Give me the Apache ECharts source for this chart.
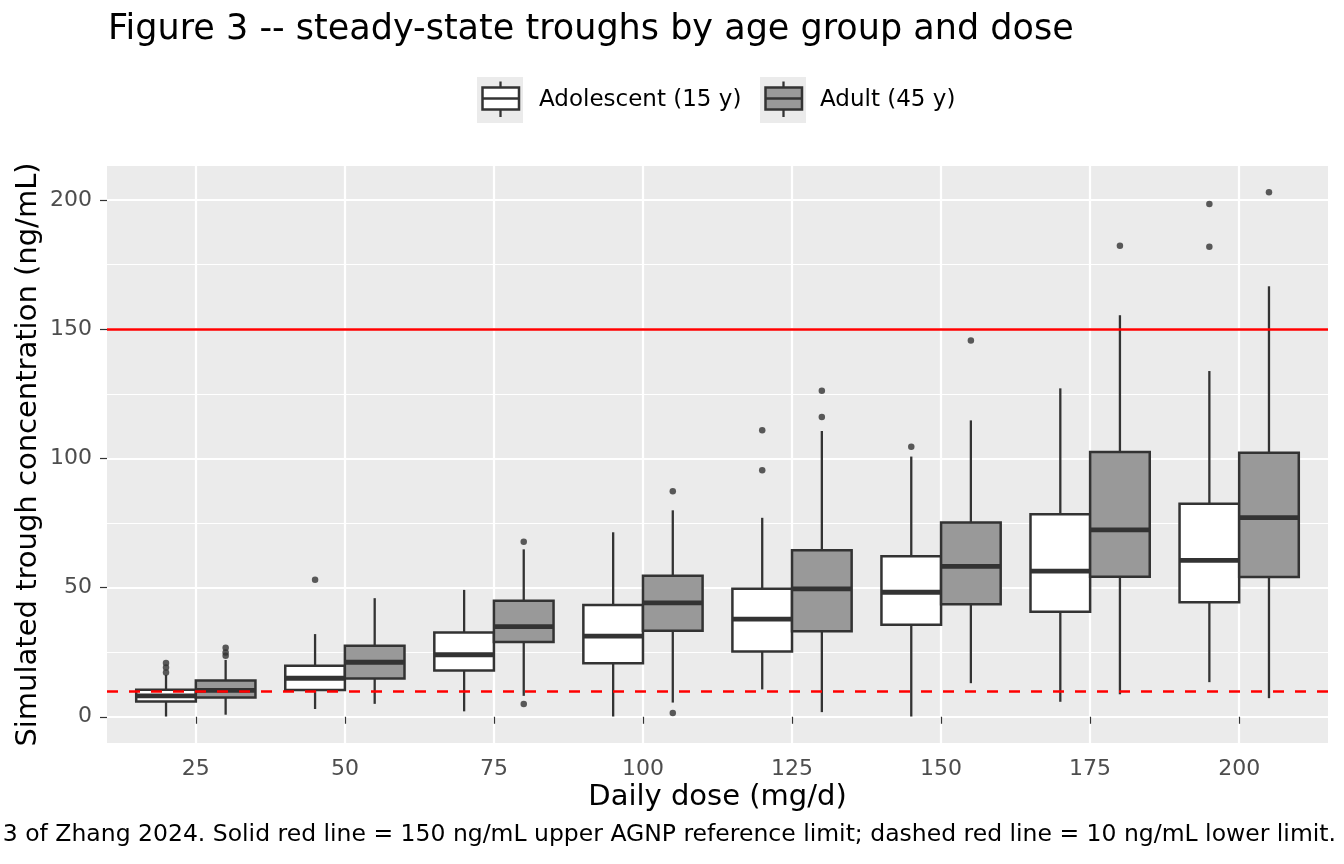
<!DOCTYPE html>
<html>
<head>
<meta charset="utf-8">
<title>Figure 3 -- steady-state troughs</title>
<script src="https://cdn.jsdelivr.net/npm/echarts@6/dist/echarts.min.js"></script>
<style>
  html, body { margin: 0; padding: 0; background: #fff; }
  #chart { width: 1344px; height: 864px; }
</style>
</head>
<body>
<div id="chart"></div>
<script>
// doses on the x axis
const doses = [25, 50, 75, 100, 125, 150, 175, 200]
const yTicks = [0, 50, 100, 150, 200]

// box stats per dose: [lower whisker, q1, median, q3, upper whisker]
const adolescentStats = [
  [0.1, 5.9, 8.1, 10.5, 16.2],
  [3.0, 10.4, 14.9, 19.7, 32.0],
  [2.1, 17.9, 24.0, 32.6, 49.1],
  [0.1, 20.7, 31.2, 43.3, 71.4],
  [10.6, 25.3, 37.8, 49.5, 77.0],
  [0.1, 35.6, 48.2, 62.1, 100.7],
  [5.8, 40.6, 56.4, 78.4, 127.1],
  [13.4, 44.3, 60.5, 82.4, 133.8]
]
const adultStats = [
  [0.8, 7.5, 10.2, 14.0, 22.0],
  [5.0, 14.8, 21.1, 27.5, 45.9],
  [8.1, 28.9, 34.9, 44.9, 64.8],
  [5.5, 33.3, 44.1, 54.6, 79.9],
  [1.8, 33.1, 49.5, 64.4, 110.6],
  [13.0, 43.5, 58.2, 75.2, 114.7],
  [8.7, 54.2, 72.3, 102.5, 155.4],
  [7.2, 54.1, 77.1, 102.2, 166.6]
]

// outliers: [dose, value]
const adolescentOutliers = [
  [25, 17.1], [25, 19.1], [25, 20.8], [50, 53.0], [125, 110.9], [125, 95.4],
  [150, 104.5], [200, 198.4], [200, 181.9]
]
const adultOutliers = [
  [25, 23.6], [25, 24.9], [25, 26.7], [75, 67.7], [75, 4.9], [100, 87.3], [100, 1.5],
  [125, 126.2], [125, 116.0], [150, 145.6], [175, 182.3], [200, 203.0]
]

// reference limits
const upperLimit = 150
const lowerLimit = 10

const DODGE = 5
const HALF = 5
const FONT = 'DejaVu Sans'
const INK = '#333333'

function boxData(stats, shift) {
  return stats.map((s, i) => [doses[i] + shift].concat(s))
}

function outlierData(list, shift) {
  return list.map((p) => [p[0] + shift, p[1]])
}

function renderBox(fill) {
  return function (params, api) {
    const x = api.value(0)
    const low = api.coord([x, api.value(1)])
    const q1 = api.coord([x - HALF, api.value(2)])
    const med = api.coord([x, api.value(3)])
    const q3 = api.coord([x + HALF, api.value(4)])
    const high = api.coord([x, api.value(5)])
    const line = { stroke: INK, lineWidth: 2.3 }
    return {
      type: 'group',
      children: [
        { type: 'line', shape: { x1: high[0], y1: high[1], x2: high[0], y2: q3[1] }, style: line },
        { type: 'line', shape: { x1: low[0], y1: low[1], x2: low[0], y2: q1[1] }, style: line },
        {
          type: 'rect',
          shape: { x: q1[0], y: q3[1], width: q3[0] - q1[0], height: q1[1] - q3[1] },
          style: { fill: fill, stroke: INK, lineWidth: 2.5 }
        },
        { type: 'line', shape: { x1: q1[0], y1: med[1], x2: q3[0], y2: med[1] }, style: { stroke: INK, lineWidth: 4.8 } }
      ]
    }
  }
}

function legendKey(x, fill) {
  const y = 77
  return [
    { type: 'rect', shape: { x: x, y: y, width: 46, height: 46 }, style: { fill: '#EBEBEB' } },
    { type: 'line', shape: { x1: x + 23.5, y1: y + 4.5, x2: x + 23.5, y2: y + 40 }, style: { stroke: INK, lineWidth: 2.3 } },
    { type: 'rect', shape: { x: x + 5.5, y: y + 10.5, width: 36.5, height: 22 }, style: { fill: fill, stroke: INK, lineWidth: 2.5 } },
    { type: 'line', shape: { x1: x + 5.5, y1: y + 21.5, x2: x + 42, y2: y + 21.5 }, style: { stroke: INK, lineWidth: 2.5 } }
  ]
}

const chart = echarts.init(document.getElementById('chart'))

const option = {
  animation: false,
  backgroundColor: '#FFFFFF',
  textStyle: { fontFamily: FONT },
  grid: {
    left: 107, right: 16, top: 166, bottom: 121,
    show: true, backgroundColor: '#EBEBEB', borderWidth: 0
  },
  xAxis: {
    type: 'value',
    min: 10.1,
    max: 214.9,
    axisLine: { show: false },
    axisTick: { show: true, customValues: doses, length: 7, lineStyle: { color: INK, width: 1.2 } },
    axisLabel: { customValues: doses, color: '#4D4D4D', fontSize: 22, fontFamily: FONT, margin: 15 },
    splitLine: { show: true, lineStyle: { color: '#FFFFFF', width: 2.2 } }
  },
  yAxis: {
    type: 'value',
    min: -10.15,
    max: 213.15,
    axisLine: { show: false },
    axisTick: { show: true, customValues: yTicks, length: 7, lineStyle: { color: INK, width: 1.2 } },
    axisLabel: { customValues: yTicks, color: '#4D4D4D', fontSize: 22, fontFamily: FONT, margin: 15 },
    splitLine: { show: true, lineStyle: { color: '#FFFFFF', width: 2.2 } },
    minorTick: { show: false, splitNumber: 2 },
    minorSplitLine: { show: true, lineStyle: { color: '#FFFFFF', width: 1.1 } }
  },
  series: [
    {
      name: 'Adolescent (15 y)',
      type: 'custom',
      renderItem: renderBox('#FFFFFF'),
      encode: { x: 0, y: [1, 2, 3, 4, 5] },
      data: boxData(adolescentStats, -DODGE),
      z: 3
    },
    {
      name: 'Adult (45 y)',
      type: 'custom',
      renderItem: renderBox('#999999'),
      encode: { x: 0, y: [1, 2, 3, 4, 5] },
      data: boxData(adultStats, DODGE),
      z: 3
    },
    {
      type: 'scatter',
      data: outlierData(adolescentOutliers, -DODGE),
      symbolSize: 6.5,
      itemStyle: { color: INK },
      silent: true,
      z: 4
    },
    {
      type: 'scatter',
      data: outlierData(adultOutliers, DODGE),
      symbolSize: 6.5,
      itemStyle: { color: INK },
      silent: true,
      z: 4,
      markLine: {
        silent: true,
        symbol: ['none', 'none'],
        label: { show: false },
        z: 10,
        data: [
          { yAxis: upperLimit, lineStyle: { color: '#FF0000', width: 2.5, type: 'solid' } },
          { yAxis: lowerLimit, lineStyle: { color: '#FF0000', width: 2.5, type: [11, 11] } }
        ]
      }
    }
  ],
  graphic: [
    {
      type: 'text', x: 108, y: 30,
      style: { text: 'Figure 3 -- steady-state troughs by age group and dose', fontSize: 35, fontFamily: FONT, fill: '#000', verticalAlign: 'middle' }
    },
    ...legendKey(477, '#FFFFFF'),
    {
      type: 'text', x: 539, y: 100,
      style: { text: 'Adolescent (15 y)', fontSize: 23, fontFamily: FONT, fill: '#000', verticalAlign: 'middle' }
    },
    ...legendKey(760, '#999999'),
    {
      type: 'text', x: 820, y: 100,
      style: { text: 'Adult (45 y)', fontSize: 23, fontFamily: FONT, fill: '#000', verticalAlign: 'middle' }
    },
    {
      type: 'text', x: 717.5, y: 797,
      style: { text: 'Daily dose (mg/d)', fontSize: 29, fontFamily: FONT, fill: '#000', align: 'center', verticalAlign: 'middle' }
    },
    {
      type: 'text', x: 28, y: 454.5, rotation: Math.PI / 2,
      style: { text: 'Simulated trough concentration (ng/mL)', fontSize: 29, fontFamily: FONT, fill: '#000', align: 'center', verticalAlign: 'middle' }
    },
    {
      type: 'text', x: 1336, y: 835,
      style: {
        text: '3 of Zhang 2024. Solid red line = 150 ng/mL upper AGNP reference limit; dashed red line = 10 ng/mL lower limit.',
        fontSize: 23.5, fontFamily: FONT, fill: '#000', align: 'right', verticalAlign: 'middle'
      }
    }
  ]
}

chart.setOption(option)
</script>
</body>
</html>
